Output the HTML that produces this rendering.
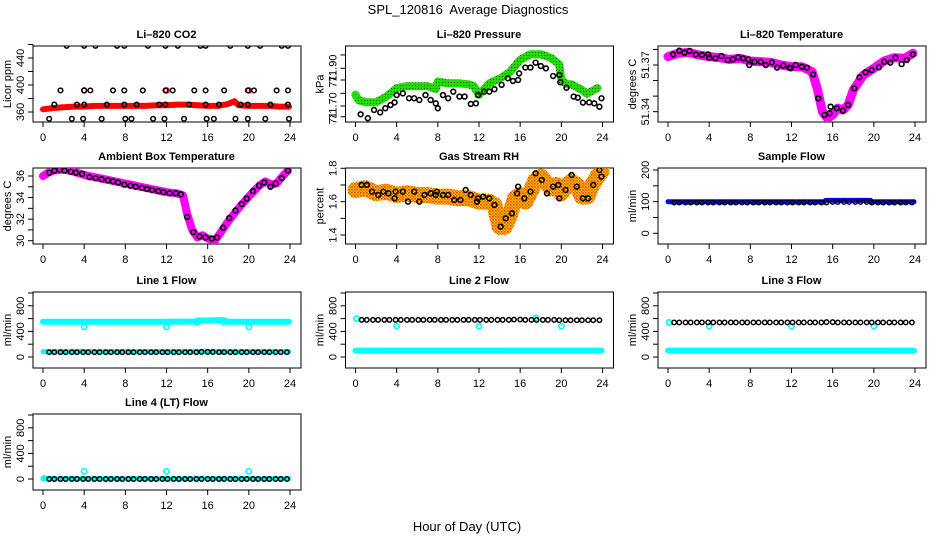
<!DOCTYPE html>
<html><head><meta charset="utf-8">
<style>
html,body{margin:0;padding:0;background:#fff;}
svg{display:block;font-family:"Liberation Sans",Arial,sans-serif;}
</style></head>
<body>
<svg id="chart" width="936" height="540" viewBox="0 0 936 540" xmlns="http://www.w3.org/2000/svg">
<defs>
<pattern id="rhPat" width="3" height="3" patternUnits="userSpaceOnUse"><rect width="3" height="3" fill="#ffe000"/><rect x="0" y="0" width="1.6" height="1.6" fill="#f03000"/><rect x="1.5" y="1.5" width="1.5" height="1.5" fill="#f06000"/></pattern>
<pattern id="grPat" width="3" height="3" patternUnits="userSpaceOnUse"><rect width="3" height="3" fill="#22dd00"/><rect x="1" y="1" width="1" height="1" fill="#114400"/></pattern>
</defs>
<text x="468" y="14" font-size="13" text-anchor="middle">SPL_120816&#160; Average Diagnostics</text>
<text x="467" y="531" font-size="13" text-anchor="middle">Hour of Day (UTC)</text>
<g id="panels"></g>
</svg>
<script>
// ---------- data ----------
var hoursTicks = [0,4,8,12,16,20,24];
// CO2
var co2BandT = [0,1,2,3,4,5,6,7,8,9,10,11,12,13,14,15,16,17,18,18.6,19,20,21,22,23,23.9];
var co2BandV = [364,366,367,368,368,369,369,369,369,369,369,370,370,371,371,370,369,369,372,376,370,369,369,369,368,368];
var co2Levels = [350,371,392,458];
var co2T0 = [0.6,2.8,3.9,5.7,8.0,8.6,10.7,11.8,13.7,15.9,16.6,18.7,19.9,21.6,23.9];
var co2T1 = [1.1,3.3,4.0,6.2,7.9,9.1,11.3,11.9,14.2,15.8,17.1,19.2,19.9,22.1,23.8];
var co2T2 = [1.7,4.0,4.6,6.8,7.9,9.7,11.9,12.6,14.7,15.8,17.6,19.9,20.5,22.7,23.8];
var co2T3 = [2.3,4.0,5.1,7.2,7.9,10.2,11.9,13.1,15.3,15.8,18.2,19.9,21.1,23.2,23.8];
var co2OutT = [4,12,20];
var co2OutV = [392,392,392];
// Pressure
var pBandT = [0,0.3,1,2,3,4,5,6,7,7.8,8,9,10,11,11.5,12,13,14,15,16,17,18,19,19.8,20,20.5,21,22,22.5,23,23.5];
var pBandV = [71.76,71.73,71.72,71.72,71.75,71.795,71.805,71.805,71.805,71.79,71.83,71.82,71.82,71.815,71.805,71.76,71.82,71.845,71.88,71.945,71.975,71.975,71.955,71.92,71.84,71.815,71.815,71.785,71.765,71.78,71.795];
var pBlackT = [0.5,1.2,1.8,2.4,2.9,3.4,3.8,4,4.6,5.2,5.7,6.2,6.8,7.3,7.8,8,8.5,9,9.5,10.1,10.6,11.2,11.7,11.9,12.5,13,13.5,14.2,14.8,15.3,15.8,15.9,16.5,17,17.5,18,18.5,19.2,19.8,19.9,20.5,21.2,21.6,22.1,22.7,23.2,23.7,23.9];
var pBlackV = [71.656,71.635,71.679,71.666,71.688,71.705,71.719,71.758,71.767,71.741,71.741,71.732,71.758,71.732,71.714,71.688,71.758,71.741,71.776,71.750,71.750,71.711,71.714,71.758,71.776,71.776,71.789,71.812,71.847,71.833,71.838,71.873,71.904,71.904,71.930,71.912,71.900,71.859,71.865,71.826,71.797,71.750,71.744,71.718,71.719,71.714,71.696,71.741];
var pTicks = [71.643,71.70,71.767,71.838,71.90,71.971];
var pTickLabels = ["71.","71.70","","71.","71.90",""];
// Li-820 temperature
var tBandT = [0,1,2,3,4,5,6,7,8,9,10,11,12,13,14,14.5,15,15.5,16,16.5,17,17.5,18,19,20,21,22,23,23.8];
var tBandV = [51.3754,51.3775,51.3781,51.3764,51.3754,51.3747,51.3736,51.3743,51.3726,51.3721,51.3717,51.37,51.3689,51.3689,51.3657,51.355,51.34,51.3358,51.3379,51.3422,51.3411,51.3443,51.354,51.3636,51.3679,51.3726,51.3747,51.3743,51.3775];
var tBlackT = [0.5,1.1,1.6,2.1,2.7,3.3,3.9,4,4.6,5.2,5.8,6.3,6.8,7.3,7.8,7.9,8.4,9,9.5,10.1,10.6,11.2,11.8,11.9,12.4,13,13.5,14.1,14.6,15.2,15.7,15.8,16.4,17,17.5,18.1,18.6,19.2,19.8,20.5,21,21.6,22.1,22.7,23.2,23.8];
var tBlackV = [51.3768,51.3792,51.3779,51.379,51.3768,51.3764,51.3768,51.3747,51.3743,51.3758,51.3732,51.3736,51.3749,51.3743,51.3736,51.37,51.3721,51.3721,51.37,51.3717,51.3683,51.3696,51.3683,51.3679,51.37,51.3689,51.3683,51.364,51.3486,51.3379,51.339,51.3432,51.3422,51.3407,51.3443,51.355,51.3621,51.3653,51.3668,51.3685,51.3721,51.3715,51.3747,51.3706,51.3732,51.3768];
var tTicks = [51.34,51.35,51.36,51.37,51.38];
var tTickLabels = ["51.34","","","51.37",""];
// Ambient box temperature
var aBandT = [0,0.5,1,2,3,4,5,6,7,8,9,10,11,12,13,13.6,14,14.5,15,15.5,16,16.7,17,18,19,20,21,21.6,22.2,22.7,23.2,23.8];
var aBandV = [36.0,36.3,36.5,36.6,36.4,36.1,35.9,35.7,35.5,35.3,35.1,34.9,34.7,34.5,34.4,34.2,32.5,31.0,30.3,30.5,30.2,30.0,30.4,31.8,33.0,34.1,35.1,35.5,35.2,35.3,35.9,36.5];
var aBlackT = [0.6,1.1,1.6,2.1,2.7,3.2,3.8,4.5,5.1,5.7,6.3,6.8,7.3,7.9,8.5,9,9.6,10.1,10.6,11.2,11.7,12.3,12.9,13.4,14,14.6,15.2,15.8,16.4,16.9,17.5,18.1,18.7,19.3,19.8,20.4,21,21.5,22.1,22.6,23.2,23.8];
var aBlackV = [36.3,36.5,36.6,36.5,36.4,36.3,36.2,35.9,35.8,35.7,35.6,35.5,35.4,35.2,35.1,35.0,34.9,34.8,34.7,34.6,34.5,34.4,34.4,34.3,32.2,30.8,30.4,30.3,30.2,30.3,31.2,32.1,32.8,33.4,33.9,34.6,35.1,35.4,35.0,35.3,35.8,36.5];
var aTicks = [30,31,32,33,34,35,36];
var aTickLabels = ["30","","32","","34","","36"];
// Gas stream RH
var rhBandT = [0,1,2,3,4,5,6,7,8,9,10,11,12,13,13.5,14,14.5,15,15.5,16,16.5,17,17.5,18,19,19.5,20,20.5,21,21.5,22,22.5,23,23.5,23.9];
var rhBandV = [1.67,1.68,1.65,1.66,1.64,1.65,1.64,1.64,1.63,1.63,1.62,1.62,1.60,1.60,1.58,1.45,1.45,1.52,1.62,1.64,1.60,1.66,1.73,1.75,1.68,1.70,1.65,1.70,1.72,1.70,1.63,1.63,1.70,1.75,1.78];
var rhBlackT = [0.6,1.1,1.6,2.2,2.7,3.2,3.8,3.9,4.6,5.1,5.7,6.2,6.7,7.3,7.8,7.9,8.5,9,9.6,10.2,10.7,11.2,11.8,11.9,12.4,13,13.5,14.1,14.6,15.2,15.7,15.8,16.4,17,17.5,18.1,18.6,19.2,19.7,19.8,20.4,21,21.5,22.1,22.6,23.1,23.7,23.9];
var rhBlackV = [1.70,1.70,1.66,1.64,1.66,1.65,1.62,1.66,1.66,1.60,1.66,1.60,1.64,1.65,1.64,1.66,1.64,1.64,1.61,1.61,1.67,1.64,1.60,1.62,1.63,1.62,1.58,1.45,1.50,1.53,1.65,1.69,1.62,1.66,1.77,1.73,1.65,1.69,1.70,1.62,1.67,1.76,1.69,1.62,1.62,1.70,1.79,1.75];
var rhTicks = [1.4,1.5,1.6,1.7,1.8];
var rhTickLabels = ["1.4","","1.6","","1.8"];
// flows
var flowT = [0.6,1.1,1.7,2.2,2.8,3.3,3.9,4.4,5.0,5.5,6.1,6.6,7.2,7.7,8.3,8.8,9.4,9.9,10.5,11.0,11.6,12.1,12.7,13.2,13.8,14.3,14.9,15.4,16.0,16.5,17.1,17.6,18.2,18.7,19.3,19.8,20.4,20.9,21.5,22.0,22.6,23.1,23.7];
var sampleBlack = [97,97,97,97,97,97,97,97,97,97,97,97,97,97,97,97,97,97,97,97,97,97,97,97,97,97,97,97,99,99,99,99,99,99,99,97,97,97,97,97,97,97,97];
var sampleBandT = [0,15.2,15.3,19.7,19.8,23.9];
var sampleBandV = [100,100,104,104,100,100];
var sampleTicks = [0,50,100,150,200];
var sampleTickLabels = ["0","","100","","200"];
var line1Black = [75,75,75,75,75,75,75,75,75,75,75,75,75,75,75,75,75,75,75,75,75,75,75,75,75,75,75,80,80,78,75,75,75,75,75,75,75,75,75,75,75,75,75];
var line1BandT = [0,4,8,12,14.8,15,16,17,17.5,17.8,18,20,23.9];
var line1BandV = [550,550,550,550,555,570,570,575,578,560,550,550,550];
var line1LowT = [0,23.9];
var line1LowV = [85,85];
var line1OutT = [4,12,20,15,17.5];
var line1OutV = [470,470,470,540,545];
var line2Black = [580,580,580,580,580,580,580,580,580,580,580,580,580,580,580,580,580,580,580,580,580,580,580,580,580,580,580,585,585,580,580,580,580,580,580,575,575,575,575,575,575,575,575];
var line2BandT = [0,23.9];
var line2BandV = [100,100];
var line2OutT = [0.1,4,12,17.5,20];
var line2OutV = [600,480,480,610,480];
var line3Black = [540,540,540,540,540,540,540,540,540,540,540,540,540,540,540,540,540,540,540,540,540,540,540,540,540,540,540,545,545,540,540,540,540,540,540,540,540,540,540,540,540,540,540];
var line3BandT = [0,23.9];
var line3BandV = [100,100];
var line3OutT = [0.1,4,12,20];
var line3OutV = [540,480,480,480];
var line4Black = [0,0,0,0,0,0,0,0,0,0,0,0,0,0,0,0,0,0,0,0,0,0,0,0,0,0,0,0,0,0,0,0,0,0,0,0,0,0,0,0,0,0,0];
var line4BandT = [0,23.9];
var line4BandV = [5,5];
var line4OutT = [0.1,4,12,20];
var line4OutV = [10,120,120,120];
var flowTicks = [0,200,400,600,800,1000];
var flowTickLabels = ["0","","400","","800",""];

// ---------- drawing ----------
var NS = "http://www.w3.org/2000/svg";
var root = document.getElementById("panels");
function mk(tag, attrs, parent){
  var e = document.createElementNS(NS, tag);
  for (var k in attrs) e.setAttribute(k, attrs[k]);
  (parent||root).appendChild(e);
  return e;
}
var colX0 = [43, 355.5, 668];
var rowTop = [46, 168, 292, 414];
var XW = 247, BH = 76;

function panel(name, col, row, title, ytitle, vToY, ticks, labels){
  var g = mk("g", {});
  
  
  var x0 = colX0[col], top = rowTop[row], bot = top + BH;
  var xs = function(h){ return x0 + h / 24 * XW; };
  var ys = function(v){ return top + vToY(v); };
  var box = mk("rect", {x: x0 - 10, y: top, width: 268, height: BH, fill: "none", stroke: "#000", "stroke-width": 1}, g);
  
  
  var t = mk("text", {x: x0 + XW / 2, y: top - 8, "font-size": 11, "font-weight": "bold", "text-anchor": "middle"}, g);
  t.textContent = title;
  
  
  var xa = mk("g", {}, g);
  
  
  mk("line", {x1: xs(0), x2: xs(24), y1: bot, y2: bot, stroke: "#000"}, xa);
  hoursTicks.forEach(function(h){
    mk("line", {x1: xs(h), x2: xs(h), y1: bot, y2: bot + 5, stroke: "#000"}, xa);
    var l = mk("text", {x: xs(h), y: bot + 19, "font-size": 11, "text-anchor": "middle"}, xa);
    l.textContent = h;
  });
  var ya = mk("g", {}, g);
  
  
  var ax = x0 - 10;
  mk("line", {x1: ax, x2: ax, y1: ys(ticks[0]), y2: ys(ticks[ticks.length - 1]), stroke: "#000"}, ya);
  ticks.forEach(function(v, i){
    mk("line", {x1: ax - 5, x2: ax, y1: ys(v), y2: ys(v), stroke: "#000"}, ya);
    if (labels[i]) {
      var l = mk("text", {x: 0, y: 0, "font-size": 11, "text-anchor": "middle", transform: "translate(" + (ax - 9) + "," + ys(v) + ") rotate(-90)"}, ya);
      l.textContent = labels[i];
    }
  });
  var yt = mk("text", {x: 0, y: 0, "font-size": 11, "text-anchor": "middle", transform: "translate(" + (ax - 22) + "," + (top + BH / 2) + ") rotate(-90)"}, g);
  yt.textContent = ytitle;
  
  
  var cp = mk("clipPath", {id: "clip-" + name}, g);
  mk("rect", {x: x0 - 10, y: top, width: 268, height: BH}, cp);
  var marks = mk("g", {"clip-path": "url(#clip-" + name + ")"}, g);
  return {
    band: function(T, V, color, w, label){
      var d = T.map(function(h, i){ return (i ? "L" : "M") + xs(h).toFixed(1) + "," + ys(V[i]).toFixed(1); }).join("");
      var p = mk("path", {d: d, fill: "none", stroke: color, "stroke-width": w, "stroke-linecap": "round", "stroke-linejoin": "round"}, marks);
      
      
    },
    pts: function(T, V, color, r, label, sw){
      var gg = mk("g", {}, marks);
      
      
      T.forEach(function(h, i){
        var c = mk("circle", {cx: xs(h), cy: ys(V[i]), r: r, fill: "none", stroke: color, "stroke-width": sw || 1.6}, gg);
        
        
      });
    }
  };
}
function lin(v0, y0, v1, y1){ return function(v){ return y0 + (v - v0) * (y1 - y0) / (v1 - v0); }; }

// CO2
var p1 = panel("co2", 0, 0, "Li\u2013820 CO2", "Licor ppm", lin(360, 66, 440, 12), [360,380,400,420,440,460], ["360","","400","","440",""]);
p1.band(co2BandT, co2BandV, "#ff0000", 6, "co2-band");
p1.pts(co2OutT, co2OutV, "#ff0000", 2.5, "co2-red-outliers");
var co2Groups = [co2T0, co2T1, co2T2, co2T3];
co2Groups.forEach(function(T, k){
  var V = T.map(function(){ return co2Levels[k]; });
  p1.pts(T, V, "#000", 2.3, "co2-black-level-" + k, 1.5);
});
// Pressure
var p2 = panel("pressure", 1, 0, "Li\u2013820 Pressure", "kPa", lin(71.70, 60, 71.90, 22.3), pTicks, pTickLabels);
p2.band(pBandT, pBandV, "url(#grPat)", 8, "green-band");
p2.pts(pBandT.slice(0,1), pBandV.slice(0,1), "#22dd00", 3, "green-start");
p2.pts(pBlackT, pBlackV, "#000", 2.4, "black-points");
// Temperature
var p3 = panel("li820-temp", 2, 0, "Li\u2013820 Temperature", "degrees C", lin(51.37, 19, 51.34, 65.67), tTicks, tTickLabels);
p3.band(tBandT, tBandV, "#ff00ff", 9, "magenta-band");
p3.pts(tBlackT, tBlackV, "#000", 2.4, "black-points");
// Ambient
var p4 = panel("ambient-temp", 0, 1, "Ambient Box Temperature", "degrees C", lin(36, 8, 30, 72.7), aTicks, aTickLabels);
p4.band(aBandT, aBandV, "#ff00ff", 8, "magenta-band");
p4.pts(aBlackT, aBlackV, "#000", 2.4, "black-points");
// RH
var p5 = panel("rh", 1, 1, "Gas Stream RH", "percent", lin(1.8, 0.3, 1.4, 67), rhTicks, rhTickLabels);
p5.band(rhBandT, rhBandV, "url(#rhPat)", 16, "orange-band");
p5.pts(rhBlackT, rhBlackV, "#000", 2.4, "black-points");
// Sample flow
var p6 = panel("sample-flow", 2, 1, "Sample Flow", "ml/min", lin(0, 65.3, 200, 2), sampleTicks, sampleTickLabels);
p6.band(sampleBandT, sampleBandV, "#0000ff", 5, "blue-band");
p6.pts(flowT, sampleBlack, "#000", 2.2, "black-points", 1.5);
// Line flows
var flowY = lin(0, 65, 1000, 1);
var p7 = panel("line1-flow", 0, 2, "Line 1 Flow", "ml/min", flowY, flowTicks, flowTickLabels);
p7.band(line1BandT, line1BandV, "#00ffff", 6, "cyan-band");
p7.band(line1LowT, line1LowV, "#00ffff", 5, "cyan-low-band");
p7.pts(line1OutT, line1OutV, "#00ffff", 2.6, "cyan-outliers");
p7.pts(flowT, line1Black, "#000", 2.2, "black-points", 1.5);
var p8 = panel("line2-flow", 1, 2, "Line 2 Flow", "ml/min", flowY, flowTicks, flowTickLabels);
p8.band(line2BandT, line2BandV, "#00ffff", 6, "cyan-band");
p8.pts(line2OutT, line2OutV, "#00ffff", 2.6, "cyan-outliers");
p8.pts(flowT, line2Black, "#000", 2.2, "black-points", 1.5);
var p9 = panel("line3-flow", 2, 2, "Line 3 Flow", "ml/min", flowY, flowTicks, flowTickLabels);
p9.band(line3BandT, line3BandV, "#00ffff", 6, "cyan-band");
p9.pts(line3OutT, line3OutV, "#00ffff", 2.6, "cyan-outliers");
p9.pts(flowT, line3Black, "#000", 2.2, "black-points", 1.5);
var p10 = panel("line4-flow", 0, 3, "Line 4 (LT) Flow", "ml/min", flowY, flowTicks, flowTickLabels);
p10.band(line4BandT, line4BandV, "#00ffff", 5, "cyan-band");
p10.pts(line4OutT, line4OutV, "#00ffff", 2.6, "cyan-outliers");
p10.pts(flowT, line4Black, "#000", 2.2, "black-points", 1.5);
</script>
</body></html>
